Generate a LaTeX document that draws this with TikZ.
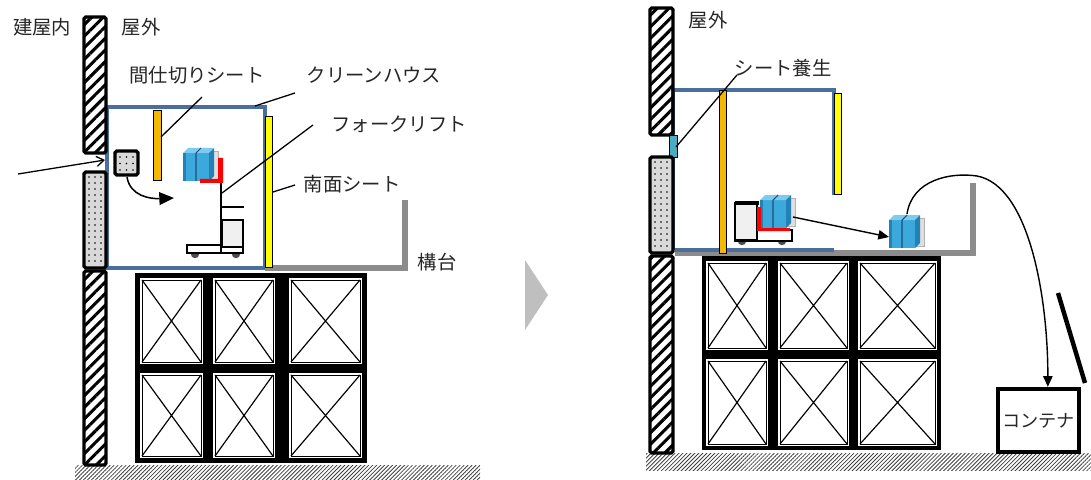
\documentclass[tikz,border=0pt]{standalone}
\usepackage{fontspec}
\newfontfamily\jp{Noto Sans CJK JP}
\usetikzlibrary{arrows.meta,patterns.meta,calc}
\definecolor{house}{HTML}{4A6E9E}
\definecolor{partsheet}{HTML}{F5B800}
\definecolor{southsheet}{HTML}{FFFF00}
\definecolor{deck}{HTML}{8C8C8C}
\definecolor{cubefront}{HTML}{3BA9DC}
\definecolor{cubetop}{HTML}{7DCBEF}
\definecolor{cubeside}{HTML}{2381B5}
\definecolor{cubeline}{HTML}{1F4E79}
\definecolor{seal}{HTML}{4BACC6}
\tikzset{wall/.style={draw=black,line width=2.8pt,rounded corners=1.5pt,pattern={Lines[angle=45,distance=7pt,line width=2.6pt]}},
infill/.style={draw=black,line width=2.8pt,rounded corners=1.5pt,fill=gray!30},
ground/.style={pattern={Lines[angle=45,distance=2.4pt,line width=.7pt]},pattern color=black!75},
sheet/.style={draw=black,line width=.7pt},
leader/.style={line width=1.1pt},
arr/.style={-{Triangle[length=3.2mm,width=2.8mm]},line width=1.2pt},
lbl/.style={font=\jp\fontsize{16.5}{18}\selectfont,text=black!85,inner sep=0pt},
deckline/.style={draw=deck,line width=4.4pt}}
% blue load: two cubes and a grey back board, #1/#2 = top left
\newcommand\cargo[2]{%
\begin{scope}[shift={(#1,#2)}]
\filldraw[fill=gray!25,draw=gray!60,line width=.4pt] (26,3) rectangle (35,31);
\foreach \c in {0,13}{
\fill[cubefront] (\c,5) rectangle (\c+13,33);
\fill[cubetop] (\c,5) -- (\c+5,0) -- (\c+18,0) -- (\c+13,5) -- cycle;}
\fill[cubeside] (26,5) -- (31,0) -- (31,28) -- (26,33) -- cycle;
\fill[cubeside] (0,5) rectangle (3,33);
\draw[cubeline,line width=.9pt] (13,33) -- (13,5) -- (18,0);
\end{scope}}
\newcommand\speckle[3]{\foreach \px in {#1}{\foreach \py in {#2,...,#3}{\fill (\px,\py) circle (.8pt);}}}
\begin{document}
\begin{tikzpicture}[x=0.03cm,y=-0.03cm]
\useasboundingbox (0,0) rectangle (1091,480);
% ---- before: clean house ----
\fill[ground] (75,465) rectangle (480,480);
\draw[house,line width=3.2pt] (107,107) rectangle (265,268);
\draw[deckline] (265,268) -- (405,268) -- (405,200);
\draw[wall] (84,17) rectangle (106,153);
\draw[infill] (84,172) rectangle (106,268);
\speckle{89,95,101}{177,183}{264}
\draw[wall] (84,271) rectangle (106,465);
\fill (135,273) rectangle (367,463);
\foreach \xa/\xb in {140/203,213/275,289/362}
 \foreach \ya/\yb in {278/364,373/458}{
  \fill[white] (\xa,\ya) rectangle (\xb,\yb);
  \draw[line width=.7pt] (\xa+2,\ya+2) rectangle (\xb-2,\yb-2);
  \draw[line width=1pt] (\xa+2,\ya+2) -- (\xb-2,\yb-2) (\xa+2,\yb-2) -- (\xb-2,\ya+2);}
\draw[infill] (115,151) rectangle (138,175);
\speckle{120,126.5,133}{157,163.5}{170}
\draw[sheet,fill=partsheet] (153,110) rectangle (161,180);
\draw[sheet,fill=southsheet] (265,116) rectangle (272,267);
\fill[gray!60!black] (195,254) circle (3.6pt) (236,254) circle (3.6pt);
\draw[fill=white,line width=.9pt] (187,245) rectangle (243,253);
\draw[fill=gray!12,line width=.9pt] (222,220) rectangle (243,247);
\draw[line width=2.4pt] (221,183) -- (221,252) (221,207) -- (244,207);
\cargo{183}{148}
\fill[red] (218,158) rectangle (223,183) (200,179) rectangle (223,183);
\coordinate (entry) at (18,174);
\coordinate (gap) at (105,160);
\draw[-{Straight Barb[length=2.2mm,width=3mm]},line width=1.1pt] (entry) -- (gap);
\coordinate (pass) at (127,177);
\coordinate (inside) at (174,198);
\draw[-{Triangle[length=4.4mm,width=3.8mm]},line width=1.3pt] (pass) .. controls (130,196) and (150,199) .. (inside);
\node[lbl] (indoor) at (42,27) {建屋内};
\node[lbl] (outdoorA) at (141,27) {屋外};
\node[lbl] (partition) at (197,75) {間仕切りシート};
\node[lbl] (cleanhouse) at (374,75) {クリーンハウス};
\node[lbl] (forklift) at (399,124) {フォークリフト};
\node[lbl] (southsheet) at (352,184) {南面シート};
\node[lbl] (stage) at (437,262) {構台};
\coordinate (partA) at (202,97); \coordinate (partB) at (161,137);
\coordinate (houseA) at (295,93); \coordinate (houseB) at (255,106);
\coordinate (forkA) at (313,125); \coordinate (forkB) at (222,193);
\coordinate (southA) at (295,185); \coordinate (southB) at (273,192);
\draw[leader] (partA) -- (partB) (houseA) -- (houseB) (forkA) -- (forkB) (southA) -- (southB);
% ---- step arrow ----
\fill[gray!50] (525,260) -- (548,295) -- (525,330) -- cycle;
% ---- after: sheets kept, load carried out ----
\fill[ground] (646,453) rectangle (1091,470);
\draw[deckline] (675,253) -- (973,253) -- (973,183);
\draw[house,line width=3.2pt] (673,250) -- (673,90) -- (834,90) -- (834,195);
\draw[house,line width=3.2pt] (675,250) -- (834,250);
\draw[wall] (650,8) rectangle (673,135);
\draw[sheet,fill=seal] (669,135) rectangle (677,157);
\draw[infill] (650,157) rectangle (673,253);
\speckle{655,661,667}{162,168}{249}
\draw[wall] (650,256) rectangle (673,453);
\fill (702,256) rectangle (941,450);
\foreach \xa/\xb in {706/768,778/849,858/937}
 \foreach \ya/\yb in {261/350,359/446}{
  \fill[white] (\xa,\ya) rectangle (\xb,\yb);
  \draw[line width=.7pt] (\xa+2,\ya+2) rectangle (\xb-2,\yb-2);
  \draw[line width=1pt] (\xa+2,\ya+2) -- (\xb-2,\yb-2) (\xa+2,\yb-2) -- (\xb-2,\ya+2);}
\draw[sheet,fill=partsheet] (719,90) rectangle (726,253);
\draw[sheet,fill=southsheet] (834,93) rectangle (841,194);
\fill[gray!60!black] (742,241) circle (3.6pt) (782,241) circle (3.6pt);
\draw[fill=white,line width=.9pt] (735,230) rectangle (792,241);
\draw[fill=gray!12,line width=.9pt] (735,203) rectangle (757,240);
\draw[line width=2.6pt] (735,203) -- (759,203);
\cargo{760}{195}
\fill[red] (757,207) rectangle (761,231) (757,228) rectangle (790,231);
\cargo{889}{215}
\node[draw,line width=3.4pt,minimum width=2.45cm,minimum height=1.9cm,inner sep=0pt,font=\jp\fontsize{15.5}{17}\selectfont,text=black!85] (container) at (1038.5,420.5) {コンテナ};
\draw[line width=3.8pt] (1058,293) -- (1085,383);
\node[lbl] (outdoorB) at (708,20) {屋外};
\node[lbl] (sealing) at (783,68) {シート養生};
\coordinate (sealA) at (737,75); \coordinate (sealB) at (676,147);
\draw[leader] (sealA) -- (sealB);
\coordinate (liftload) at (793,217);
\coordinate (deckload) at (889,237);
\draw[arr] (liftload) -- (deckload);
\coordinate (hook) at (907,214);
\draw[arr] (hook) .. controls (912,180) and (950,172) .. (977,176) .. controls (1030,186) and (1048,300) .. ([xshift=0.28cm]container.north);
\end{tikzpicture}
\end{document}
